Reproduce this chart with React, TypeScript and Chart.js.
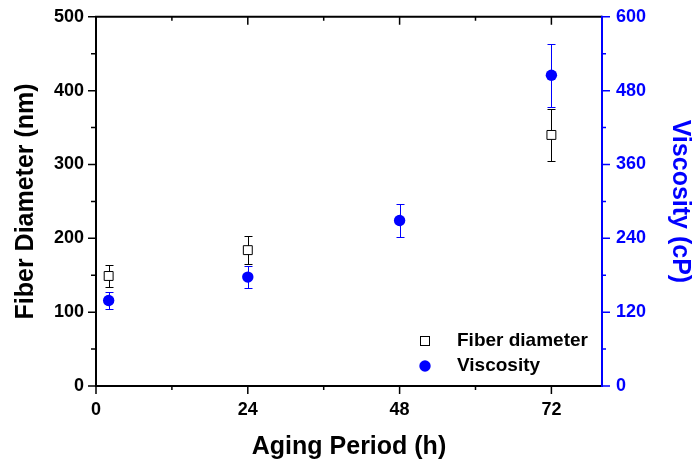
import React, { useEffect, useRef } from "react";
import { Chart, registerables } from "chart.js";

Chart.register(...registerables);

// ---- data ----
const fiberHours = [2, 24, 72];
const fiberDiameter = [149, 184, 340];
const fiberError = [15, 18.5, 35];

const viscosityHours = [2, 24, 48, 72];
const viscosity = [139, 177, 269, 505];
const viscosityError = [14, 18, 27, 51];

const xTickValues = [0, 24, 48, 72];
const xMinorValues = [12, 36, 60];
const leftTickValues = [0, 100, 200, 300, 400, 500];
const leftMinorValues = [50, 150, 250, 350, 450];
const rightTickValues = [0, 120, 240, 360, 480, 600];
const rightMinorValues = [60, 180, 300, 420, 540];

const legendLabels = ["Fiber diameter", "Viscosity"];

const BLUE = "#0000ff";
const FONT = "'Liberation Sans', Arial, Helvetica, sans-serif";
const errorSets = [fiberError, viscosityError];
const errorColors = ["#000000", BLUE];

const customPlugin = {
  id: "customDraw",
  beforeDatasetsDraw(chart: any) {
    const ctx = chart.ctx;
    chart.data.datasets.forEach((ds: any, di: number) => {
      const xs = chart.scales.x;
      const ys = chart.scales[ds.yAxisID];
      const errs = errorSets[di];
      ctx.save();
      ctx.strokeStyle = errorColors[di];
      ctx.lineWidth = 1;
      ds.data.forEach((p: any, i: number) => {
        const px = Math.round(xs.getPixelForValue(p.x)) + 0.5;
        const top = Math.round(ys.getPixelForValue(p.y + errs[i])) + 0.5;
        const bot = Math.round(ys.getPixelForValue(p.y - errs[i])) + 0.5;
        ctx.beginPath();
        ctx.moveTo(px, top);
        ctx.lineTo(px, bot);
        ctx.moveTo(px - 4, top);
        ctx.lineTo(px + 4, top);
        ctx.moveTo(px - 4, bot);
        ctx.lineTo(px + 4, bot);
        ctx.stroke();
      });
      ctx.restore();
    });
  },
  afterDraw(chart: any) {
    const ctx = chart.ctx;
    const { left, right, top, bottom } = chart.chartArea;
    const xs = chart.scales.x;
    const yl = chart.scales.y;
    const yr = chart.scales.y2;
    ctx.save();
    ctx.lineWidth = 2;
    // frame
    ctx.strokeStyle = "#000";
    ctx.beginPath();
    ctx.moveTo(left - 1, top);
    ctx.lineTo(right, top);
    ctx.moveTo(left, top);
    ctx.lineTo(left, bottom);
    ctx.moveTo(left - 1, bottom);
    ctx.lineTo(right, bottom);
    ctx.stroke();
    ctx.lineWidth = 1.5;
    ctx.beginPath();
    // x ticks (bottom outward, top inward)
    xTickValues.forEach((v) => {
      const px = xs.getPixelForValue(v);
      ctx.moveTo(px, bottom);
      ctx.lineTo(px, bottom + 8);
      ctx.moveTo(px, top);
      ctx.lineTo(px, top + 8);
    });
    xMinorValues.forEach((v) => {
      const px = xs.getPixelForValue(v);
      ctx.moveTo(px, bottom);
      ctx.lineTo(px, bottom + 4);
      ctx.moveTo(px, top);
      ctx.lineTo(px, top + 4);
    });
    // left ticks
    leftTickValues.forEach((v) => {
      const py = yl.getPixelForValue(v);
      ctx.moveTo(left, py);
      ctx.lineTo(left - 8, py);
    });
    leftMinorValues.forEach((v) => {
      const py = yl.getPixelForValue(v);
      ctx.moveTo(left, py);
      ctx.lineTo(left - 5, py);
    });
    ctx.stroke();
    // right axis
    ctx.strokeStyle = BLUE;
    ctx.lineWidth = 2;
    ctx.beginPath();
    ctx.moveTo(right, top - 1);
    ctx.lineTo(right, bottom + 1);
    ctx.stroke();
    ctx.lineWidth = 1.5;
    ctx.beginPath();
    rightTickValues.forEach((v) => {
      const py = yr.getPixelForValue(v);
      ctx.moveTo(right, py);
      ctx.lineTo(right + 8, py);
    });
    rightMinorValues.forEach((v) => {
      const py = yr.getPixelForValue(v);
      ctx.moveTo(right, py);
      ctx.lineTo(right + 4, py);
    });
    ctx.stroke();

    // legend
    const mx = right - 177;
    const tx = right - 145;
    const y1 = bottom - 45;
    const y2 = bottom - 20;
    ctx.lineWidth = 1;
    ctx.strokeStyle = "#000";
    ctx.fillStyle = "#fff";
    ctx.fillRect(mx - 4.5, y1 - 4.5, 9, 9);
    ctx.strokeRect(mx - 4.5, y1 - 4.5, 9, 9);
    ctx.fillStyle = BLUE;
    ctx.beginPath();
    ctx.arc(mx, y2, 5.7, 0, Math.PI * 2);
    ctx.fill();
    ctx.fillStyle = "#000";
    ctx.font = `bold 19px ${FONT}`;
    ctx.textAlign = "left";
    ctx.textBaseline = "middle";
    ctx.fillText(legendLabels[0], tx, y1);
    ctx.fillText(legendLabels[1], tx, y2);
    ctx.restore();
  },
};

export default function App() {
  const ref = useRef<HTMLCanvasElement | null>(null);

  useEffect(() => {
    if (!ref.current) return;
    const tickFont = { family: FONT, size: 18, weight: "bold" as const };
    const titleFont = { family: FONT, size: 25, weight: "bold" as const, lineHeight: 1 };
    const hiddenGrid = {
      display: true,
      drawOnChartArea: false,
      drawTicks: true,
      tickLength: 8,
      color: "rgba(0,0,0,0)",
    };
    const chart = new Chart(ref.current, {
      type: "scatter",
      data: {
        datasets: [
          {
            label: legendLabels[0],
            data: fiberHours.map((h, i) => ({ x: h, y: fiberDiameter[i] })),
            yAxisID: "y",
            pointStyle: "rect",
            pointRadius: 6.3,
            pointBackgroundColor: "#ffffff",
            pointBorderColor: "#000000",
            pointBorderWidth: 1,
            showLine: false,
          },
          {
            label: legendLabels[1],
            data: viscosityHours.map((h, i) => ({ x: h, y: viscosity[i] })),
            yAxisID: "y2",
            pointStyle: "circle",
            pointRadius: 5.7,
            pointBackgroundColor: BLUE,
            pointBorderColor: BLUE,
            pointBorderWidth: 0,
            showLine: false,
          },
        ],
      },
      options: {
        responsive: false,
        animation: false,
        layout: { padding: { top: 15, left: 0, right: 0, bottom: 0 } },
        plugins: { legend: { display: false }, tooltip: { enabled: false } },
        scales: {
          x: {
            type: "linear",
            position: "bottom",
            min: 0,
            max: 80,
            afterBuildTicks: (s: any) => {
              s.ticks = xTickValues.map((v) => ({ value: v }));
            },
            afterFit: (s: any) => {
              s.height = 79;
            },
            grid: hiddenGrid,
            border: { display: false },
            ticks: { font: tickFont, color: "#000", padding: 5, maxRotation: 0 },
            title: {
              display: true,
              text: "Aging Period (h)",
              font: titleFont,
              color: "#000",
              padding: { top: 0, bottom: 5 },
            },
          },
          y: {
            type: "linear",
            position: "left",
            min: 0,
            max: 500,
            afterBuildTicks: (s: any) => {
              s.ticks = leftTickValues.map((v) => ({ value: v }));
            },
            afterFit: (s: any) => {
              s.width = 96;
            },
            grid: hiddenGrid,
            border: { display: false },
            ticks: { font: tickFont, color: "#000", padding: 4 },
            title: {
              display: true,
              text: "Fiber Diameter (nm)",
              font: titleFont,
              color: "#000",
              padding: { top: 14, bottom: 0 },
            },
          },
          y2: {
            type: "linear",
            position: "right",
            min: 0,
            max: 600,
            afterBuildTicks: (s: any) => {
              s.ticks = rightTickValues.map((v) => ({ value: v }));
            },
            afterFit: (s: any) => {
              s.width = 90;
            },
            grid: hiddenGrid,
            border: { display: false },
            ticks: { font: tickFont, color: BLUE, padding: 6 },
            title: {
              display: true,
              text: "Viscosity (cP)",
              font: titleFont,
              color: BLUE,
              padding: { top: 0, bottom: 0 },
            },
          },
        },
      },
      plugins: [customPlugin],
    });
    return () => chart.destroy();
  }, []);

  return (
    <div style={{ position: "absolute", left: 0, top: 0, width: 692, height: 465, background: "#fff" }}>
      <canvas ref={ref} width={692} height={465} style={{ width: 692, height: 465, display: "block" }} />
    </div>
  );
}
